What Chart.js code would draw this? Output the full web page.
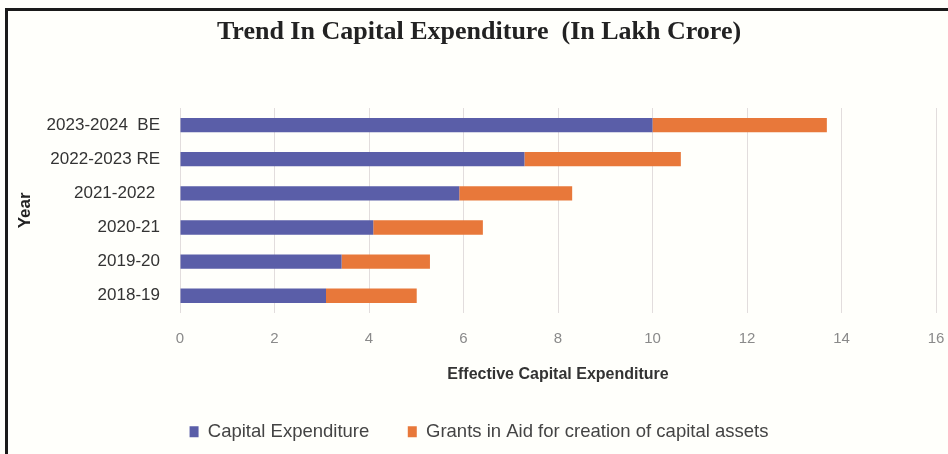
<!DOCTYPE html>
<html>
<head>
<meta charset="utf-8">
<script src="https://cdn.jsdelivr.net/npm/chart.js@4/dist/chart.umd.min.js"></script>
<style>
  html, body { margin: 0; padding: 0; background: #fffffb; }
  #wrap { position: relative; width: 948px; height: 454px; overflow: hidden; background: #fffffb; }
  #frameTop { position: absolute; left: 5px; top: 8px; width: 943px; height: 3px; background: #1a1a1a; }
  #frameLeft { position: absolute; left: 5px; top: 8px; width: 3px; height: 446px; background: #1a1a1a; }
  canvas { position: absolute; left: 0; top: 0; }
</style>
</head>
<body>
<div id="wrap">
  <canvas id="c" width="948" height="454"></canvas>
  <div id="frameTop"></div>
  <div id="frameLeft"></div>
</div>
<script>
const categories = ['2023-2024  BE', '2022-2023 RE', '2021-2022 ', '2020-21', '2019-20', '2018-19'];
const capitalExpenditure = [10.0, 7.29, 5.91, 4.09, 3.42, 3.09];
const grantsInAid = [3.69, 3.31, 2.39, 2.32, 1.87, 1.92];
const xTicks = [0, 2, 4, 6, 8, 10, 12, 14, 16];

const bodyFont = "'Liberation Sans', Arial, sans-serif";

new Chart(document.getElementById('c'), {
  type: 'bar',
  data: {
    labels: categories,
    datasets: [
      { label: 'Capital Expenditure', data: capitalExpenditure, backgroundColor: '#5a5ea8', barPercentage: 0.42, categoryPercentage: 1.0 },
      { label: 'Grants in Aid for creation of capital assets', data: grantsInAid, backgroundColor: '#e8783a', barPercentage: 0.42, categoryPercentage: 1.0 }
    ]
  },
  options: {
    indexAxis: 'y',
    responsive: false,
    animation: false,
    layout: { padding: { left: 10, right: 0, top: 0, bottom: 3 } },
    plugins: {
      title: {
        display: true,
        text: 'Trend In Capital Expenditure  (In Lakh Crore)',
        font: { family: "'Liberation Serif', 'Times New Roman', serif", size: 26, weight: 'bold' },
        color: '#222',
        padding: { top: 16.5, bottom: 60.3 }
      },
      legend: {
        position: 'bottom',
        labels: {
          boxWidth: 9, boxHeight: 11,
          padding: 38.5,
          color: '#444',
          font: { family: bodyFont, size: 18.5 }
        }
      },
      tooltip: { enabled: false }
    },
    scales: {
      x: {
        stacked: true,
        min: 0, max: 16,
        afterBuildTicks: (scale) => { scale.ticks = xTicks.map(v => ({ value: v })); },
        afterFit: (scale) => { scale.paddingRight = 12; },
        grid: { color: '#e2dddd', drawTicks: false, lineWidth: 1 },
        border: { display: false },
        ticks: { padding: 17, color: '#8a8a8a', font: { family: bodyFont, size: 15 } },
        title: {
          display: true,
          text: 'Effective Capital Expenditure',
          color: '#333',
          font: { family: bodyFont, size: 16, weight: 'bold' },
          padding: { top: 0, bottom: 0 }
        }
      },
      y: {
        stacked: true,
        afterFit: (scale) => { scale.width = 170; },
        grid: { display: false, drawTicks: false },
        border: { display: false },
        ticks: { padding: 20, color: '#333', font: { family: bodyFont, size: 17 } },
        title: {
          display: true,
          text: 'Year',
          color: '#222',
          font: { family: bodyFont, size: 17, weight: 'bold' },
          padding: { top: 5, bottom: 0 }
        }
      }
    }
  }
});
</script>
</body>
</html>
